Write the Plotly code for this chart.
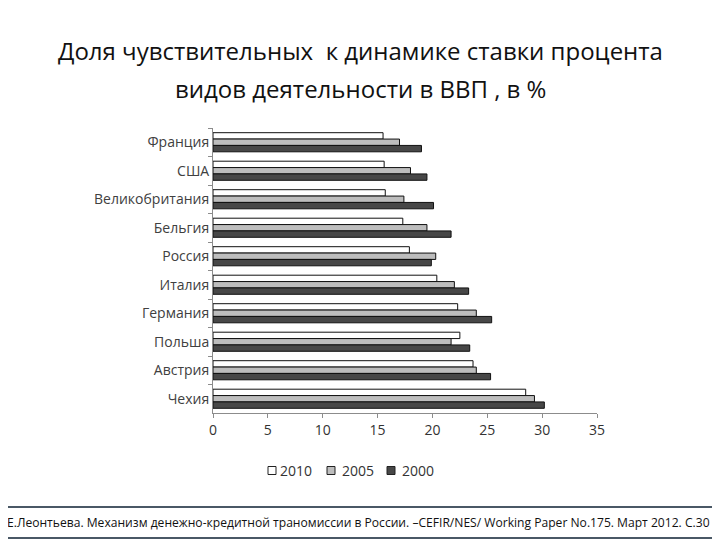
import plotly.graph_objects as go

countries = ["Франция", "США", "Великобритания", "Бельгия", "Россия",
             "Италия", "Германия", "Польша", "Австрия", "Чехия"]
v2010 = [15.5, 15.6, 15.7, 17.3, 17.9, 20.4, 22.3, 22.5, 23.7, 28.5]
v2005 = [17.0, 18.0, 17.4, 19.5, 20.3, 22.0, 24.0, 21.7, 24.0, 29.3]
v2000 = [19.0, 19.5, 20.1, 21.7, 19.9, 23.3, 25.4, 23.4, 25.3, 30.2]
series_names = ["2010", "2005", "2000"]
colors = ["#ffffff", "#bdbdbd", "#474747"]

# page body has an 8px margin in the browser: work in shifted pixel coordinates
OFF = 8
W, H = 720 - OFF, 540 - OFF

fig = go.Figure()
for name, vals, col in zip(series_names, [v2010, v2005, v2000], colors):
    fig.add_trace(go.Bar(
        y=countries, x=vals, name=name, orientation="h",
        marker=dict(color=col, line=dict(color="#111111", width=1)),
        showlegend=False,
    ))

font_main = "Open Sans, DejaVu Sans, sans-serif"
ML = 213 - OFF
MT = 128 - OFF
MR = W - (597 - OFF)
MB = H - (413 - OFF)
fig.update_layout(
    template="none",
    width=W, height=H,
    paper_bgcolor="white", plot_bgcolor="white",
    margin=dict(l=ML, r=MR, t=MT, b=MB, autoexpand=False),
    barmode="group", bargap=0.33, bargroupgap=0.0,
    font=dict(family=font_main, color="#333333"),
    showlegend=False,
    xaxis=dict(range=[0, 35], dtick=5, showgrid=False, zeroline=False,
               automargin=False,
               showline=True, linecolor="#8c8c8c", linewidth=1,
               ticks="outside", ticklen=4, tickcolor="#8c8c8c",
               tickfont=dict(size=14, color="#333333")),
    yaxis=dict(autorange="reversed", showgrid=False, zeroline=False,
               automargin=False,
               showline=True, linecolor="#8c8c8c", linewidth=1,
               ticks="outside", ticklen=4, tickcolor="#8c8c8c",
               tickson="boundaries",
               tickfont=dict(size=14, color="#404040")),
)

plot_h = H - MT - MB
plot_w = W - ML - MR
def px(xp): return (xp - OFF - ML) / plot_w
def py(yp): return (H - MB - (yp - OFF)) / plot_h

fig.add_annotation(text="Доля чувствительных  к динамике ставки процента",
                   x=px(360), y=py(50), xref="paper", yref="paper", showarrow=False,
                   xanchor="center", yanchor="middle",
                   font=dict(size=24, color="#111111", family=font_main))
fig.add_annotation(text="видов деятельности в ВВП , в %",
                   x=px(360), y=py(88), xref="paper", yref="paper", showarrow=False,
                   xanchor="center", yanchor="middle",
                   font=dict(size=24, color="#111111", family=font_main))
fig.add_annotation(text="Е.Леонтьева. Механизм денежно-кредитной траномиссии в России. –CEFIR/NES/ Working Paper No.175. Март 2012. С.30",
                   x=px(358), y=py(522), xref="paper", yref="paper", showarrow=False,
                   xanchor="center", yanchor="middle",
                   font=dict(size=12.1, color="#111111", family=font_main))
fig.add_shape(type="rect", xref="paper", yref="paper",
              x0=px(1), x1=px(717), y0=py(538), y1=py(507),
              line=dict(color="#4a5866", width=2), fillcolor="rgba(0,0,0,0)")

# legend (manual, compact like the reference)
sq_left = [268, 327, 387]
txt_left = [278, 340, 400]
for name, col, sx, tx in zip(series_names, colors, sq_left, txt_left):
    fig.add_shape(type="rect", xref="paper", yref="paper",
                  x0=px(sx), x1=px(sx + 8), y0=py(474.5), y1=py(466.5),
                  line=dict(color="#222222", width=1), fillcolor=col)
    fig.add_annotation(text=name, x=px(tx), y=py(470.5), xref="paper", yref="paper",
                       showarrow=False, xanchor="left", yanchor="middle",
                       font=dict(size=14, color="#333333", family=font_main))

fig.write_html("out.html")
